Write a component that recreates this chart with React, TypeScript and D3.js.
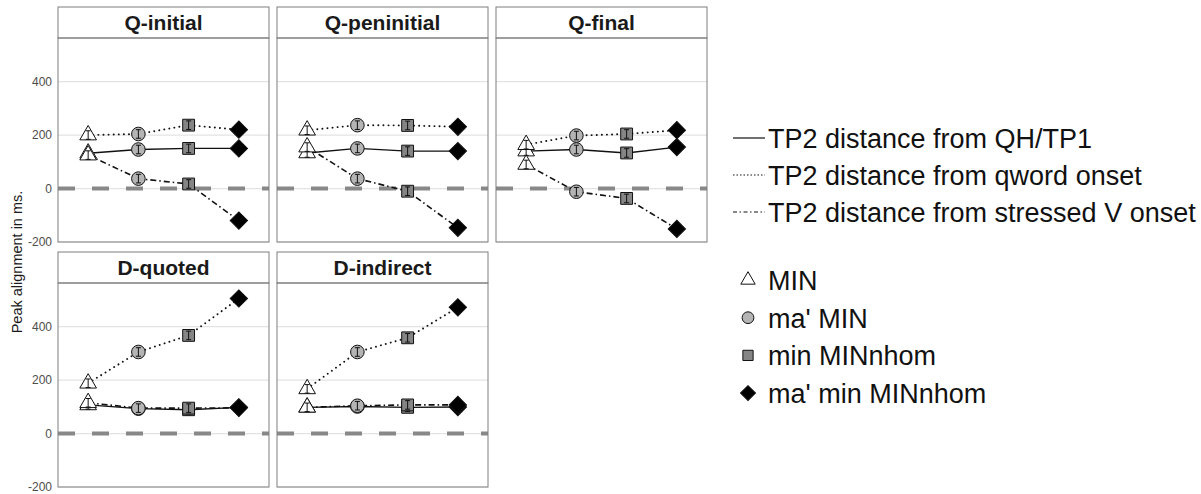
import React from "react";
import * as d3 from "d3";

// panels, categories and measures
const panels = ["Q-initial", "Q-peninitial", "Q-final", "D-quoted", "D-indirect"];
const categories = ["MIN", "ma' MIN", "min MINnhom", "ma' min MINnhom"];
const measures = [
  "TP2 distance from QH/TP1",
  "TP2 distance from qword onset",
  "TP2 distance from stressed V onset",
];

// values per panel (rows) and category (columns), in ms
const fromQH = [
  [132, 146, 150, 150],
  [133, 150, 140, 140],
  [140, 146, 133, 155],
  [107, 93, 89, 98],
  [98, 101, 98, 99],
];
const fromQword = [
  [200, 204, 237, 220],
  [218, 237, 236, 231],
  [164, 198, 204, 218],
  [188, 305, 367, 505],
  [167, 305, 358, 472],
];
const fromStressedV = [
  [125, 37, 17, -120],
  [155, 37, -10, -147],
  [90, -12, -37, -151],
  [115, 95, 95, 96],
  [98, 104, 107, 107],
];
const errMs = 16;
const yTicks = [-200, 0, 200, 400];

const FONT = "'Liberation Sans', Arial, sans-serif";

const App = () => {
  // layout
  const left = 58;
  const top = 7;
  const panelW = 211;
  const colGap = 8;
  const stripH = 31;
  const plotH = 204;
  const rowGap = 10;

  const series = [fromQH, fromQword, fromStressedV];
  const dashes = ["none", "0.1,5", "6,3,1.5,3"];

  const y = d3.scaleLinear().domain([-200, 563]).range([plotH, 0]);
  const x = d3.scalePoint<string>().domain(categories).range([0, panelW]).padding(0.6);
  const line = d3
    .line<number>()
    .x((_, i) => x(categories[i]) as number)
    .y((d) => y(d));

  const shape = (cat: number, size = 1) => {
    if (cat === 0) return d3.symbol(d3.symbolTriangle, 120 * size)() as string;
    if (cat === 1) return d3.symbol(d3.symbolCircle, 145 * size)() as string;
    if (cat === 2) return d3.symbol(d3.symbolSquare, 140 * size)() as string;
    return d3.symbol(d3.symbolSquare, 150 * size)() as string;
  };
  const fills = ["#ffffff", "#b4b4b4", "#858585", "#000000"];
  const rot = (cat: number) => (cat === 3 ? "rotate(45)" : "");

  return (
    <svg width={1201} height={494} style={{ display: "block", position: "absolute", left: 0, top: 0 }}>
      <rect width={1201} height={494} fill="#ffffff" />
      <text
        transform={`translate(22,262) rotate(-90)`}
        textAnchor="middle"
        fontFamily={FONT}
        fontSize={14.5}
        fill="#1a1a1a"
      >
        Peak alignment in ms.
      </text>
      {panels.map((p, pi) => {
        const col = pi % 3;
        const row = Math.floor(pi / 3);
        const px = left + col * (panelW + colGap);
        const py = top + row * (stripH + plotH + rowGap);
        return (
          <g key={p} transform={`translate(${px},${py})`}>
            <rect x={0} y={0} width={panelW} height={stripH} fill="#ffffff" stroke="#7f7f7f" strokeWidth={1} />
            <text
              x={panelW / 2}
              y={stripH / 2 + 7.5}
              textAnchor="middle"
              fontFamily={FONT}
              fontWeight="bold"
              fontSize={21}
              fill="#1a1a1a"
            >
              {p}
            </text>
            <g transform={`translate(0,${stripH})`}>
              {yTicks.map((t) => (
                <line key={t} x1={0} x2={panelW} y1={y(t)} y2={y(t)} stroke="#e3e3e3" strokeWidth={1.2} />
              ))}
              <line x1={0} x2={panelW} y1={y(0)} y2={y(0)} stroke="#888888" strokeWidth={4} strokeDasharray="17,17" />
              {col === 0 &&
                yTicks.map((t) => (
                  <text
                    key={t}
                    x={-6}
                    y={y(t) + 4}
                    textAnchor="end"
                    fontFamily={FONT}
                    fontSize={12}
                    fill="#4d4d4d"
                  >
                    {t}
                  </text>
                ))}
              {series.map((s, si) => (
                <path
                  key={si}
                  d={line(s[pi]) as string}
                  fill="none"
                  stroke="#111"
                  strokeWidth={si === 0 ? 1.4 : si === 1 ? 1.9 : 1.6}
                  strokeDasharray={dashes[si]}
                  strokeLinecap={si === 1 ? "round" : "butt"}
                />
              ))}
              {series.map((s, si) =>
                s[pi].map((v, ci) => {
                  const cx = x(categories[ci]) as number;
                  const cy = y(v);
                  const e = y(v - errMs) - cy;
                  return (
                    <g key={`${si}-${ci}`} transform={`translate(${cx},${cy})`}>
                      <path d={shape(ci)} transform={rot(ci)} fill={fills[ci]} stroke="#111" strokeWidth={1} />
                      {ci < 3 && (
                        <g stroke="#111" strokeWidth={1}>
                          <line x1={0} x2={0} y1={-e} y2={e} />
                          <line x1={-2.5} x2={2.5} y1={-e} y2={-e} />
                          <line x1={-2.5} x2={2.5} y1={e} y2={e} />
                        </g>
                      )}
                    </g>
                  );
                })
              )}
              <rect x={0} y={0} width={panelW} height={plotH} fill="none" stroke="#7f7f7f" strokeWidth={1} />
            </g>
          </g>
        );
      })}
      {/* legend: line types */}
      {measures.map((m, i) => (
        <g key={m} transform={`translate(733,${138 + i * 37})`}>
          <line
            x1={0}
            x2={32}
            y1={0}
            y2={0}
            stroke="#111"
            strokeWidth={1.2}
            strokeDasharray={i === 1 ? "1.5,2" : i === 2 ? "4,2.5,1.5,2.5" : "none"}
          />
          <text x={35} y={10} fontFamily={FONT} fontSize={27} fill="#111">
            {m}
          </text>
        </g>
      ))}
      {/* legend: shapes */}
      {categories.map((c, i) => (
        <g key={c} transform={`translate(748,${280 + i * 37.7})`}>
          <path d={shape(i, 0.75)} transform={rot(i)} fill={fills[i]} stroke="#111" strokeWidth={1} />
          <text x={20} y={10} fontFamily={FONT} fontSize={27} fill="#111">
            {c}
          </text>
        </g>
      ))}
    </svg>
  );
};

export default App;
